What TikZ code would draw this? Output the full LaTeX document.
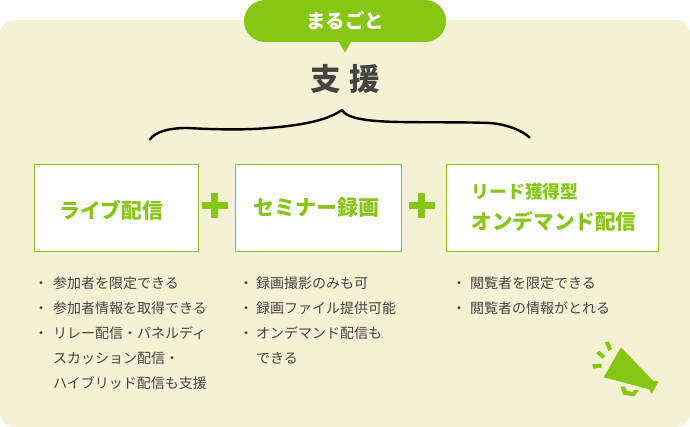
\documentclass[tikz,border=0pt]{standalone}
\usepackage{fontspec}
\setmainfont{Noto Sans CJK JP}
\definecolor{leaf}{HTML}{86C615}
\definecolor{cream}{HTML}{F4F1D4}
\definecolor{ink}{HTML}{444444}
\newcommand{\bl}{\makebox[19pt][l]{・}}
\newcommand{\nb}{\makebox[19pt][l]{}}
\tikzset{
  x=1pt,y=-1pt,
  card/.style={draw=leaf,line width=0.8pt,fill=white},
  cardtext/.style={anchor=west,inner sep=0pt,text=leaf,font=\bfseries\fontsize{20.8}{26}\selectfont},
  plusbar/.style={fill=leaf},
  listtext/.style={anchor=north west,inner sep=0pt,align=left,text=ink,font=\fontsize{14}{25}\selectfont},
}
\begin{document}
\begin{tikzpicture}
\useasboundingbox (0,0) rectangle (690,427);
\fill[white] (0,0) rectangle (690,427);
\fill[cream,rounded corners=14pt] (0,20) rectangle (690,427);
% label bubble
\fill[leaf] (265,0) -- (425,0) arc[start angle=-90,end angle=90,radius=21] -- (351,42) -- (345,52.5) -- (339,42) -- (265,42) arc[start angle=90,end angle=270,radius=21] -- cycle;
\node[inner sep=0pt,text=white,font=\bfseries\fontsize{19.5}{24}\selectfont] (tag) at (345,21) {まるごと};
\node[inner sep=0pt,text=ink,font=\bfseries\fontsize{30.5}{36}\selectfont] (title) at (345,79) {支\hspace{8.5pt}援};
% brace
\draw[black,line width=2.4pt,line cap=round,line join=round]
  (150,139.5) .. controls (155,132) and (168,128) .. (187,128)
  .. controls (215,129.5) and (240,130) .. (262,128.5)
  .. controls (295,126) and (325,122) .. (342,110)
  .. controls (347,119) and (370,121.5) .. (400,122)
  .. controls (430,122.5) and (465,122) .. (490,123)
  .. controls (505,124) and (522,130) .. (529.5,137.5);
% cards
\node[card,minimum width=164.4pt,minimum height=87pt,inner sep=0pt] (c1) at (116.3,207.8) {};
\node[card,minimum width=165.6pt,minimum height=87pt,inner sep=0pt] (c2) at (318.5,207.8) {};
\node[card,minimum width=212.4pt,minimum height=87pt,inner sep=0pt] (c3) at (552.4,207.8) {};
\node[cardtext] (t1) at (59,210) {ライブ配信};
\node[cardtext,font=\bfseries\fontsize{21}{26}\selectfont] (t2) at (253,208) {セミナー録画};
\node[cardtext,font=\bfseries\fontsize{17.8}{22}\selectfont] (t3a) at (471.5,192) {リード獲得型};
\node[cardtext,font=\bfseries\fontsize{20.6}{26}\selectfont] (t3b) at (471.5,221) {オンデマンド配信};
% plus signs
\fill[plusbar] (202,202) rectangle (227.5,209);
\fill[plusbar] (211,193) rectangle (218,218);
\fill[plusbar] (409,202) rectangle (434.5,209);
\fill[plusbar] (418,193) rectangle (425,218);
% lists
\node[listtext] (l1) at (34,277) {\bl 参加者を限定できる\\ \bl 参加者情報を取得できる\\ \bl リレー配信・パネルディ\\ \nb スカッション配信・\\ \nb ハイブリッド配信も支援};
\node[listtext] (l2) at (239,277) {\makebox[17pt][l]{・}録画撮影のみも可\\ \makebox[17pt][l]{・}録画ファイル提供可能\\ \makebox[17pt][l]{・}オンデマンド配信も\\ \makebox[17pt][l]{}できる};
\node[listtext] (l3) at (452,277) {\makebox[18pt][l]{・}閲覧者を限定できる\\ \makebox[18pt][l]{・}閲覧者の情報がとれる};
% megaphone
\fill[leaf] (621,347.3) -- (653.3,381) -- (658.7,381.3) -- (651.7,394) -- (649.3,389.3) -- (603.7,377.3) -- cycle;
\fill[leaf] (620.3,386.7) -- (625,386.7) -- (626.7,390.7) -- (632.3,392) -- (634,390) -- (639,390.3) -- (634,396.3) -- (623.3,394.7) -- cycle;
\fill[leaf] (605,342.3) -- (609,341.3) -- (612,349.3) -- (608.3,351) -- cycle;
\fill[leaf] (596,353.3) -- (599,350.7) -- (605.3,355.7) -- (602.7,358.7) -- cycle;
\fill[leaf] (592.3,364.3) -- (601.7,363.7) -- (601.7,367.7) -- (593,368.7) -- cycle;
\end{tikzpicture}
\end{document}
